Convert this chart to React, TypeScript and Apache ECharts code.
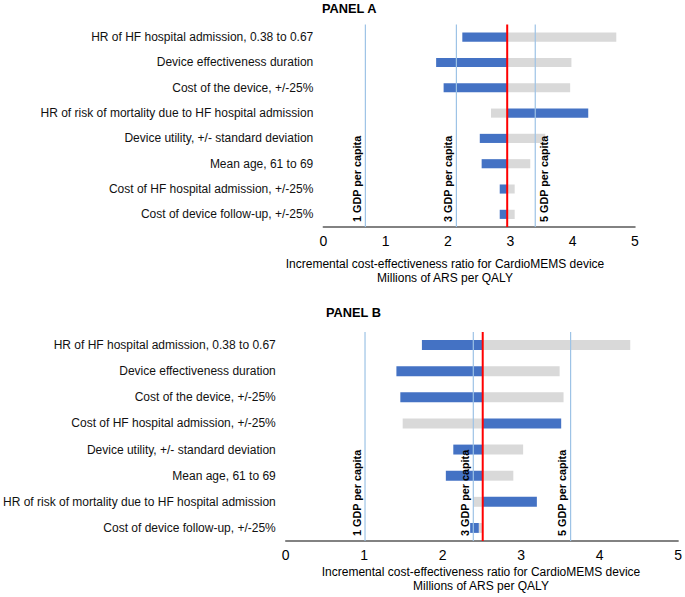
import React, { useEffect, useRef } from "react";
import * as echarts from "echarts";

const panelALabels = [
  "HR of HF hospital admission, 0.38 to 0.67",
  "Device effectiveness duration",
  "Cost of the device, +/-25%",
  "HR of risk of mortality due to HF hospital admission",
  "Device utility, +/- standard deviation",
  "Mean age, 61 to 69",
  "Cost of HF hospital admission, +/-25%",
  "Cost of device follow-up, +/-25%",
];
const panelABlue: [number, number][] = [
  [2.23, 2.95], [1.81, 2.95], [1.93, 2.95], [2.95, 4.25],
  [2.51, 2.95], [2.54, 2.95], [2.83, 2.95], [2.83, 2.95],
];
const panelAGrey: [number, number][] = [
  [2.95, 4.7], [2.95, 3.98], [2.95, 3.96], [2.69, 2.95],
  [2.95, 3.56], [2.95, 3.32], [2.95, 3.07], [2.95, 3.07],
];
const panelABase = 2.95;
const panelAGdp = [0.675, 2.135, 3.4];
const panelAGdpSide = [-1, -1, 1];

const panelBLabels = [
  "HR of HF hospital admission, 0.38 to 0.67",
  "Device effectiveness duration",
  "Cost of the device, +/-25%",
  "Cost of HF hospital admission, +/-25%",
  "Device utility, +/- standard deviation",
  "Mean age, 61 to 69",
  "HR of risk of mortality due to HF hospital admission",
  "Cost of device follow-up, +/-25%",
];
const panelBBlue: [number, number][] = [
  [1.735, 2.51], [1.41, 2.51], [1.46, 2.51], [2.51, 3.51],
  [2.135, 2.51], [2.04, 2.51], [2.51, 3.2], [2.35, 2.46],
];
const panelBGrey: [number, number][] = [
  [2.51, 4.39], [2.51, 3.49], [2.51, 3.54], [1.49, 2.51],
  [2.51, 3.025], [2.51, 2.9], [2.39, 2.51], [2.46, 2.5],
];
const panelBBase = 2.51;
const panelBGdp = [1.01, 2.39, 3.63];
const panelBGdpSide = [-1, -1, -1];

const gdpLabels = ["1 GDP per capita", "3 GDP per capita", "5 GDP per capita"];
const xTicks = [0, 1, 2, 3, 4, 5];

const FONT = "'Liberation Sans', Arial, sans-serif";
const BLUE = "#4472c4";
const GREY = "#d9d9d9";

function rangeSeries(data: [number, number][], idx: number, color: string, ratio: number, z: number) {
  return {
    type: "custom",
    xAxisIndex: idx,
    yAxisIndex: idx,
    z,
    silent: true,
    data: data.map((d, i) => [d[0], d[1], i]),
    renderItem: (params: any, api: any) => {
      const a = api.coord([api.value(0), api.value(2)]);
      const b = api.coord([api.value(1), api.value(2)]);
      const h = api.size([0, 1])[1] * ratio;
      return {
        type: "rect",
        shape: { x: a[0], y: a[1] - h / 2, width: b[0] - a[0], height: h },
        style: { fill: color },
      };
    },
  };
}

function refLineSeries(idx: number, base: number, gdp: number[], sides: number[], n: number) {
  const data: any[] = gdp.map((g, i) => [g, i, sides[i]]);
  data.push([base, -1, 0]);
  return {
    type: "custom",
    xAxisIndex: idx,
    yAxisIndex: idx,
    z: 5,
    silent: true,
    data,
    renderItem: (params: any, api: any) => {
      const v = api.value(0);
      const li = api.value(1);
      const side = api.value(2);
      const band = api.size([0, 1])[1];
      const p0 = api.coord([v, 0]);
      const p1 = api.coord([v, n - 1]);
      const top = p0[1] - band / 2;
      const bottom = p1[1] + band / 2;
      const isBase = li < 0;
      const children: any[] = [
        {
          type: "line",
          shape: { x1: p0[0], y1: top, x2: p0[0], y2: bottom },
          style: { stroke: isBase ? "#ff0000" : "#9dc3e6", lineWidth: isBase ? 2 : 1.2 },
          z2: isBase ? 10 : 1,
        },
      ];
      if (!isBase) {
        children.push({
          type: "text",
          x: p0[0] + (side < 0 ? -3 : 3),
          y: bottom - 5,
          rotation: Math.PI / 2,
          style: {
            text: gdpLabels[li],
            fontSize: 10.8,
            fontWeight: "bold",
            fill: "#000",
            fontFamily: FONT,
            align: "left",
            verticalAlign: side < 0 ? "bottom" : "top",
          },
        });
      }
      return { type: "group", children };
    },
  };
}

export default function App() {
  const ref = useRef<HTMLDivElement>(null);
  useEffect(() => {
    if (!ref.current) return;
    const chart = echarts.init(ref.current, null, { renderer: "svg" });
    const xAxisCommon = {
      type: "value",
      min: xTicks[0],
      max: xTicks[xTicks.length - 1],
      interval: 1,
      splitLine: { show: false },
      axisTick: { show: false },
      axisLine: { show: true, lineStyle: { color: "#595959", width: 1.5 } },
      axisLabel: { fontSize: 14, color: "#000", margin: 7, fontFamily: FONT },
    };
    const yAxisCommon = {
      type: "category",
      inverse: true,
      axisLine: { show: false },
      axisTick: { show: false },
      splitLine: { show: false },
      axisLabel: { fontSize: 12, color: "#111", margin: 10, fontFamily: FONT },
    };
    const titleStyle = { fontSize: 12.8, fontWeight: "bold", fill: "#000", fontFamily: FONT };
    const nameStyle = {
      fontSize: 12,
      fill: "#000",
      fontFamily: FONT,
      align: "center",
      verticalAlign: "middle",
      lineHeight: 14,
    };
    const axisName = "Incremental cost-effectiveness ratio for CardioMEMS device\nMillions of ARS per QALY";
    chart.setOption({
      animation: false,
      backgroundColor: "#fff",
      textStyle: { fontFamily: FONT },
      grid: [
        { left: 323.3, width: 311.7, top: 24.5, height: 202.5 },
        { left: 282.7, width: 396.6, top: 332, height: 209 },
      ],
      xAxis: [
        { ...xAxisCommon, gridIndex: 0 },
        { ...xAxisCommon, gridIndex: 1 },
      ],
      yAxis: [
        { ...yAxisCommon, gridIndex: 0, data: panelALabels },
        { ...yAxisCommon, gridIndex: 1, data: panelBLabels },
      ],
      series: [
        rangeSeries(panelAGrey, 0, GREY, 0.36, 2),
        rangeSeries(panelABlue, 0, BLUE, 0.36, 3),
        refLineSeries(0, panelABase, panelAGdp, panelAGdpSide, panelALabels.length),
        rangeSeries(panelBGrey, 1, GREY, 0.38, 2),
        rangeSeries(panelBBlue, 1, BLUE, 0.38, 3),
        refLineSeries(1, panelBBase, panelBGdp, panelBGdpSide, panelBLabels.length),
      ],
      graphic: [
        { type: "text", x: 322, y: 2, style: { text: "PANEL A", ...titleStyle } },
        { type: "text", x: 326, y: 306, style: { text: "PANEL B", ...titleStyle } },
        { type: "text", x: 445, y: 271, style: { text: axisName, ...nameStyle } },
        { type: "text", x: 481, y: 578.7, style: { text: axisName, ...nameStyle } },
      ],
    });
    return () => chart.dispose();
  }, []);
  return (
    <div
      ref={ref}
      style={{ position: "fixed", left: 0, top: 0, width: 685, height: 597 }}
    />
  );
}
